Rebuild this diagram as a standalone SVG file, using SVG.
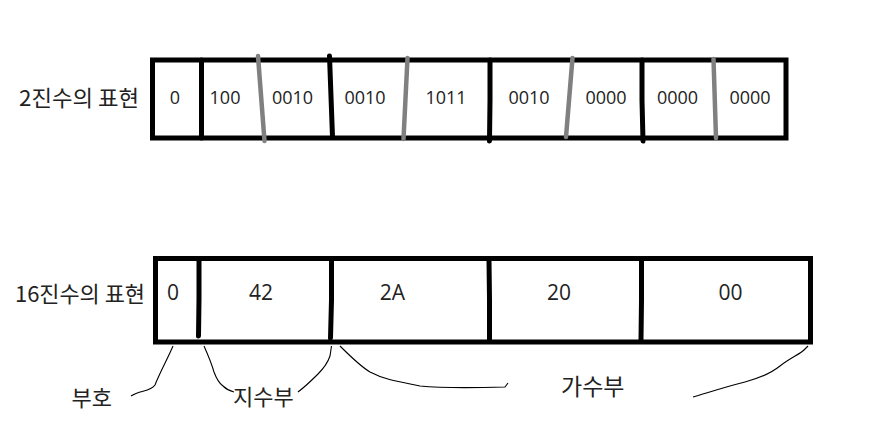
<svg xmlns="http://www.w3.org/2000/svg" width="893" height="443" viewBox="0 0 893 443">
<style>
.box{fill:#fff;stroke:#000;stroke-width:5}
.div{fill:none;stroke:#000;stroke-width:5;stroke-linecap:round}
.gray{fill:none;stroke:#808080;stroke-width:4.5;stroke-linecap:round}
.d{font-family:"Open Sans","Noto Sans",sans-serif;fill:#222;text-anchor:middle}
.s{font-size:18px}
.b{font-size:21px}
.k{font-family:"Noto Sans CJK KR","Noto Sans",sans-serif;font-size:22px;fill:#222}
.c{fill:none;stroke:#000;stroke-width:1.1}
</style>
<rect width="893" height="443" fill="#fff"/>
<g id="binary">
<text class="k" x="19" y="106" textLength="120" lengthAdjust="spacingAndGlyphs">2진수의 표현</text>
<rect class="box" x="152.5" y="60" width="633.5" height="78"/>
<line class="div" x1="201.5" y1="60" x2="201.5" y2="138"/>
<line class="gray" x1="258" y1="56" x2="264.5" y2="141"/>
<line class="div" x1="329.5" y1="56" x2="332.5" y2="137"/>
<line class="gray" x1="407.5" y1="58" x2="403.5" y2="139"/>
<polyline class="div" points="490,60 490,100 489.5,141"/>
<line class="gray" x1="572.5" y1="58" x2="566" y2="137"/>
<polyline class="div" points="642,60 642,100 643,141"/>
<line class="gray" x1="713.5" y1="59" x2="716" y2="138"/>
<text class="d s" x="175" y="103.5">0</text>
<text class="d s" x="225" y="103.5">100</text>
<text class="d s" x="292.5" y="103.5">0010</text>
<text class="d s" x="365" y="103.5">0010</text>
<text class="d s" x="446" y="103.5">1011</text>
<text class="d s" x="529" y="103.5">0010</text>
<text class="d s" x="606" y="103.5">0000</text>
<text class="d s" x="677.5" y="103.5">0000</text>
<text class="d s" x="750" y="103.5">0000</text>
</g>
<g id="hex">
<text class="k" x="15" y="302" textLength="130" lengthAdjust="spacingAndGlyphs">16진수의 표현</text>
<rect class="box" x="155.5" y="258.5" width="655" height="83.5"/>
<polyline class="div" points="199,260 199,299 198.5,336"/>
<polyline class="div" points="331.5,260 331.5,300 330.5,338"/>
<polyline class="div" points="489,260 489.5,300 489.5,340"/>
<polyline class="div" points="641.5,260 641.5,300 641,340"/>
<text class="d b" x="173" y="300">0</text>
<text class="d b" x="261" y="300">42</text>
<text class="d b" x="392.5" y="300">2A</text>
<text class="d b" x="559" y="300">20</text>
<text class="d b" x="730.5" y="300">00</text>
</g>
<g id="labels">
<text class="k" x="71.5" y="406">부호</text>
<text class="k" x="233" y="405">지수부</text>
<text class="k" x="561" y="395" style="font-size:23px">가수부</text>
</g>
<g id="connectors">
<path class="c" d="M173,346 C168,358 160,372 155,385 C150,392 140,390 131,396"/>
<path class="c" d="M204,346 C208,355 212,365 214,372 C217,380 220,384 223,386 C227,390 230,391 234,392"/>
<path class="c" d="M298,392 C306,386 312,380 318,374 C324,368 328,362 330,356 L331.5,346"/>
<path class="c" d="M340,346 C350,356 360,366 370,372 C385,380 400,382 420,386 C440,388 470,388 505,387 L508,383"/>
<path class="c" d="M693,397 C710,392 725,387 745,382 C760,378 770,374 780,366 C790,358 800,354 804,350 L808,346"/>
</g>
</svg>
